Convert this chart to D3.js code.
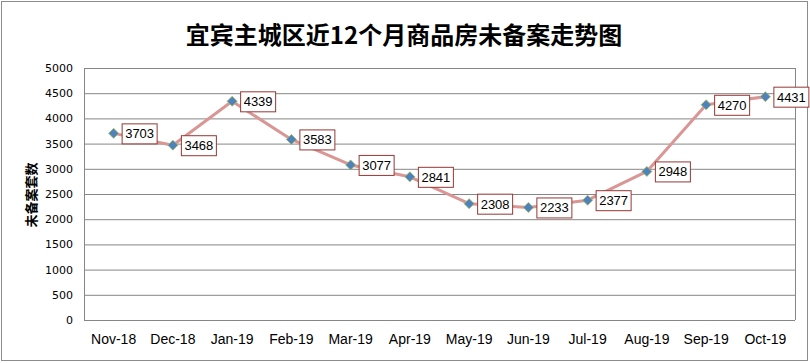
<!DOCTYPE html>
<html><head><meta charset="utf-8">
<script src="https://cdn.jsdelivr.net/npm/d3@7"></script>
<style>body{margin:0;background:#fff}svg{display:block}</style>
</head><body>
<svg id="c" width="810" height="363"></svg>
<script>
const categories = ["Nov-18","Dec-18","Jan-19","Feb-19","Mar-19","Apr-19","May-19","Jun-19","Jul-19","Aug-19","Sep-19","Oct-19"];
const values = [3703,3468,4339,3583,3077,2841,2308,2233,2377,2948,4270,4431];
const yTicks = [0,500,1000,1500,2000,2500,3000,3500,4000,4500,5000];
const title = "宜宾主城区近12个月商品房未备案走势图";
const yTitle = "未备案套数";

const svg = d3.select("#c");
svg.append("rect").attr("x",1.5).attr("y",1.5).attr("width",806).attr("height",359)
  .attr("fill","#fff").attr("stroke","#8c8c8c");

const L=84, R=795, T=68, B=320;
const x = d3.scaleBand().domain(categories).range([L,R]);
const y = d3.scaleLinear().domain([0,5000]).range([B,T]);

svg.append("text").attr("x",404).attr("y",44).attr("text-anchor","middle")
  .attr("font-family","Noto Sans CJK SC").attr("font-weight","bold").attr("font-size",24)
  .text(title);

// grid
svg.append("g").selectAll("line").data(yTicks).join("line")
  .attr("x1",L).attr("x2",R).attr("y1",d=>y(d)+0.5).attr("y2",d=>y(d)+0.5)
  .attr("stroke","#868686").attr("stroke-width",1);
svg.append("line").attr("x1",L+0.5).attr("x2",L+0.5).attr("y1",T).attr("y2",B)
  .attr("stroke","#868686");
svg.append("line").attr("x1",R+0.5).attr("x2",R+0.5).attr("y1",T).attr("y2",B)
  .attr("stroke","#868686");

// y axis labels
const ya = d3.axisLeft(y).tickValues(yTicks).tickFormat(d3.format("d")).tickSize(0).tickPadding(11);
const yg = svg.append("g").attr("transform",`translate(${L},0)`).call(ya);
yg.select(".domain").remove();
yg.selectAll("text").attr("font-family","DejaVu Sans").attr("font-size",11).attr("fill","#000");

// x axis labels
const xa = d3.axisBottom(x).tickSize(0).tickPadding(14);
const xg = svg.append("g").attr("transform",`translate(0,${B})`).call(xa);
xg.select(".domain").remove();
xg.selectAll("text").attr("font-family","Liberation Sans").attr("font-size",14).attr("fill","#000");

// y title
svg.append("text").attr("transform","translate(36,195) rotate(-90)").attr("text-anchor","middle")
  .attr("font-family","Noto Sans CJK SC").attr("font-weight","bold").attr("font-size",13)
  .text(yTitle);

const cx = d=>x(d)+x.bandwidth()/2;
const line = d3.line().x((d,i)=>cx(categories[i])).y(d=>y(d));
svg.append("path").datum(values).attr("d",line).attr("fill","none")
  .attr("stroke","#d99694").attr("stroke-width",3).attr("stroke-linejoin","round");

svg.append("g").selectAll("path").data(values).join("path")
  .attr("transform",(d,i)=>`translate(${cx(categories[i])},${y(d)})`)
  .attr("d","M0,-5L5,0L0,5L-5,0Z").attr("fill","#4f81bd").attr("stroke","#9bbb59").attr("stroke-width",0.8);

const lg = svg.append("g").selectAll("g").data(values).join("g")
  .attr("transform",(d,i)=>`translate(${cx(categories[i])+8},${y(d)})`);
lg.append("rect").attr("x",0.5).attr("y",-9.5).attr("width",35).attr("height",20)
  .attr("fill","#fff").attr("stroke","#953735").attr("stroke-width",1);
lg.append("text").attr("x",18).attr("y",5).attr("text-anchor","middle")
  .attr("font-family","Liberation Sans Narrow, Liberation Sans").attr("font-size",13).attr("fill","#000").text(d=>d);
</script>
</body></html>
